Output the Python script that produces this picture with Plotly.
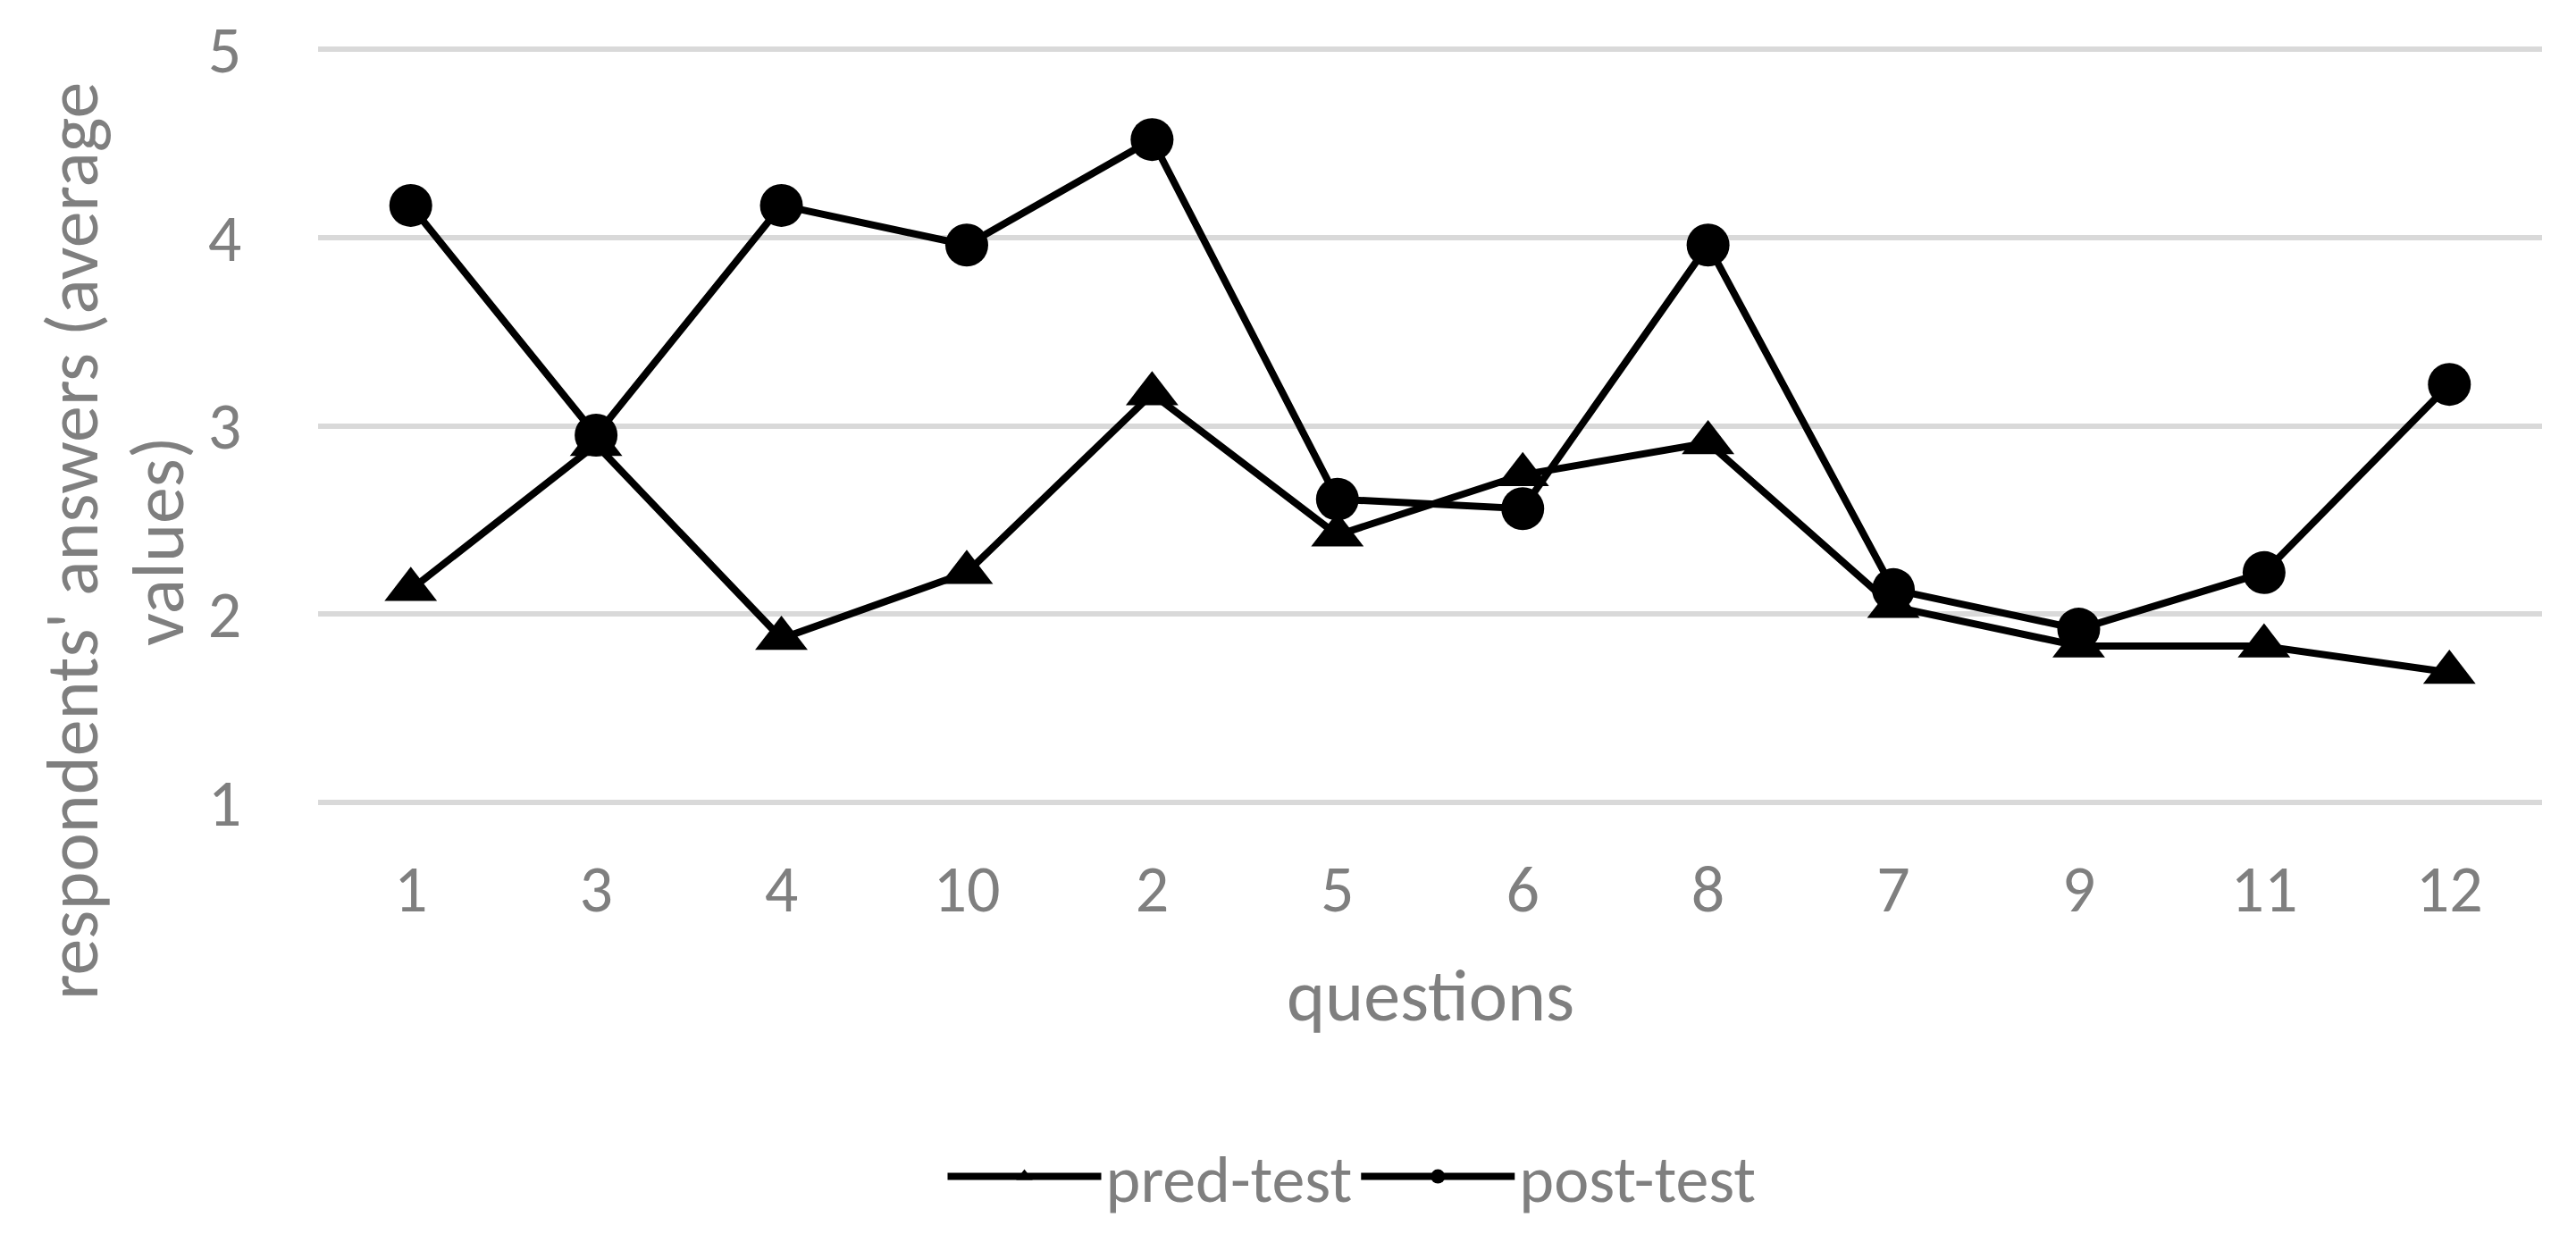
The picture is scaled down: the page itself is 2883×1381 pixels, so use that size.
import plotly.graph_objects as go

categories = ["1", "3", "4", "10", "2", "5", "6", "8", "7", "9", "11", "12"]
pred_test = [2.13, 2.90, 1.87, 2.22, 3.17, 2.42, 2.74, 2.91, 2.04, 1.83, 1.83, 1.69]
post_test = [4.17, 2.95, 4.17, 3.96, 4.52, 2.61, 2.56, 3.96, 2.13, 1.92, 2.22, 3.22]
y_ticks = [1, 2, 3, 4, 5]

W, H = 2883, 1381
L, R, T, B = 348, 46, 46, 490
PW, PH = W - L - R, H - T - B

FONT = "Carlito, Calibri, 'Open Sans', sans-serif"
GRAY = "#7f7f7f"
TICK_SIZE = 74
TITLE_SIZE = 82


def px_x(x):
    return (x - L) / PW


def px_y(y):
    return (H - B - y) / PH


fig = go.Figure()
fig.add_trace(go.Scatter(
    x=categories, y=pred_test, name="pred-test", mode="lines+markers",
    line=dict(color="black", width=8),
    marker=dict(symbol="triangle-up", size=51, color="black"),
    cliponaxis=False,
))
fig.add_trace(go.Scatter(
    x=categories, y=post_test, name="post-test", mode="lines+markers",
    line=dict(color="black", width=8),
    marker=dict(symbol="circle", size=48, color="black"),
    cliponaxis=False,
))

fig.update_layout(
    width=W, height=H,
    margin=dict(l=L, r=R, t=T, b=B, autoexpand=False),
    paper_bgcolor="white", plot_bgcolor="white",
    font=dict(family=FONT, size=TICK_SIZE, color=GRAY),
    showlegend=True,
    legend=dict(
        orientation="h", x=px_x(1505), y=px_y(1309),
        xanchor="center", yanchor="middle",
        font=dict(family=FONT, size=TICK_SIZE, color=GRAY),
        itemwidth=172, traceorder="normal",
        bgcolor="rgba(0,0,0,0)",
    ),
    xaxis=dict(
        type="category", categoryorder="array", categoryarray=categories,
        range=[-0.5, len(categories) - 0.5],
        showgrid=False, zeroline=False, showline=False,
        ticks="outside", ticklen=31, tickcolor="rgba(0,0,0,0)",
        tickfont=dict(family=FONT, size=TICK_SIZE, color=GRAY),
    ),
    yaxis=dict(
        range=[0.995, 5.005], tickvals=y_ticks,
        showgrid=True, gridcolor="#d9d9d9", gridwidth=6,
        zeroline=False, showline=False,
        ticks="outside", ticklen=70, tickcolor="rgba(0,0,0,0)",
        tickfont=dict(family=FONT, size=TICK_SIZE, color=GRAY),
    ),
    annotations=[
        dict(text="questions", xref="paper", yref="paper",
             x=px_x(1593), y=px_y(1106), xanchor="center", yanchor="middle",
             showarrow=False, font=dict(family=FONT, size=TITLE_SIZE, color=GRAY)),
        dict(text="respondents' answers (average", xref="paper", yref="paper",
             x=px_x(73), y=px_y(598), xanchor="center", yanchor="middle",
             textangle=-90, showarrow=False,
             font=dict(family=FONT, size=TITLE_SIZE, color=GRAY)),
        dict(text="values)", xref="paper", yref="paper",
             x=px_x(169), y=px_y(598), xanchor="center", yanchor="middle",
             textangle=-90, showarrow=False,
             font=dict(family=FONT, size=TITLE_SIZE, color=GRAY)),
    ],
)

fig.write_html("out.html")
